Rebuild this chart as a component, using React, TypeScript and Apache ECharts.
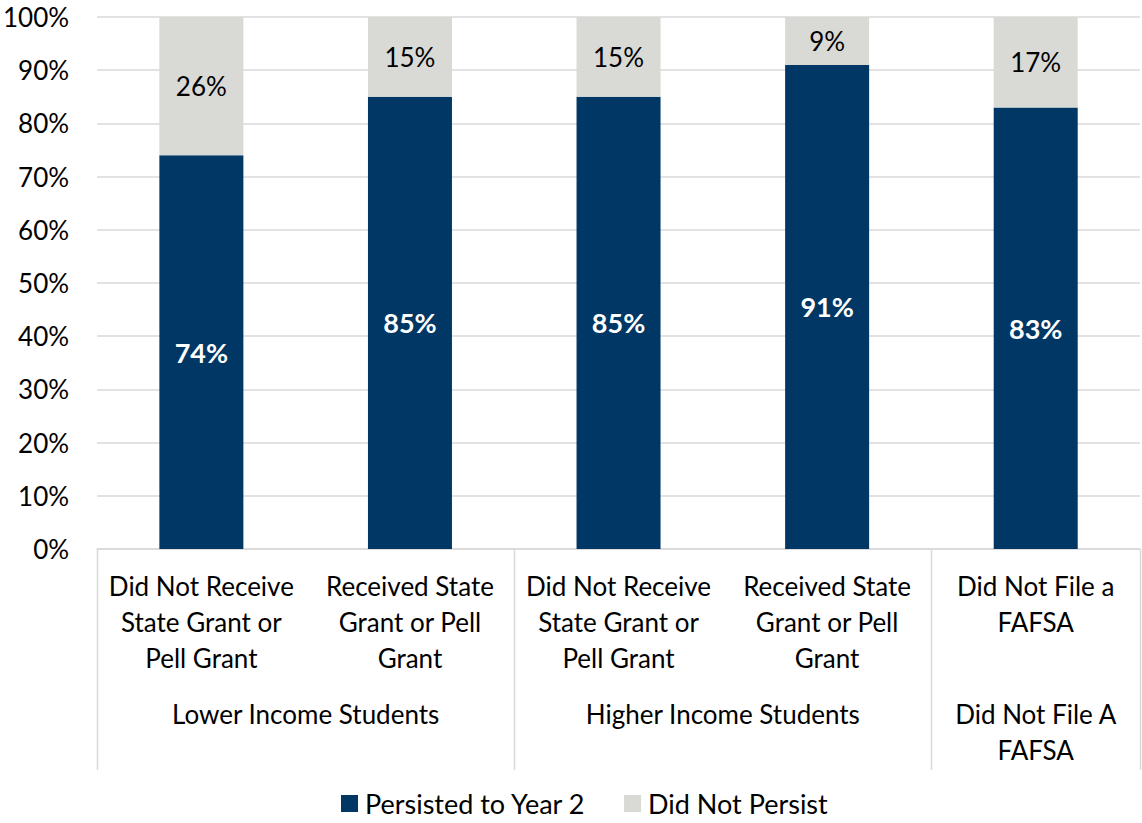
import React, { useEffect, useRef } from "react";
import * as echarts from "echarts";

const categories = [
  "Did Not Receive\nState Grant or\nPell Grant",
  "Received State\nGrant or Pell\nGrant",
  "Did Not Receive\nState Grant or\nPell Grant",
  "Received State\nGrant or Pell\nGrant",
  "Did Not File a\nFAFSA",
];
const groups = [
  { label: "Lower Income Students", start: 0, end: 1 },
  { label: "Higher Income Students", start: 2, end: 3 },
  { label: "Did Not File A\nFAFSA", start: 4, end: 4 },
];
const persisted = [74, 85, 85, 91, 83];
const notPersisted = [26, 15, 15, 9, 17];
const yTicks = [0, 10, 20, 30, 40, 50, 60, 70, 80, 90, 100];

const FONT = "Lato, 'Open Sans', sans-serif";
const FS = 26;
const DARK = "#003764";
const LIGHT = "#d9d9d6";
const GRID_COLOR = "#d9d9d9";

export default function App() {
  const ref = useRef<HTMLDivElement>(null);
  useEffect(() => {
    if (!ref.current) return;
    const chart = echarts.init(ref.current, undefined, { renderer: "svg" });
    const option: any = {
      animation: false,
      textStyle: { fontFamily: FONT },
      grid: { left: 97, right: 2, top: 17, bottom: 274, containLabel: false },
      legend: {
        top: 790,
        left: 341,
        padding: 0,
        itemWidth: 17,
        itemHeight: 17,
        itemGap: 38,
        icon: "rect",
        textStyle: { fontSize: 27, color: "#000", fontFamily: FONT, padding: [0, 0, 0, 2] },
        data: ["Persisted to Year 2", "Did Not Persist"],
      },
      xAxis: {
        type: "category",
        data: categories,
        axisLine: { show: true, lineStyle: { color: GRID_COLOR, width: 1.5 } },
        axisTick: { show: false },
        axisLabel: {
          fontSize: FS,
          color: "#000",
          lineHeight: 36,
          margin: 19,
          interval: 0,
          verticalAlign: "top",
          fontFamily: FONT,
        },
      },
      yAxis: {
        type: "value",
        min: 0,
        max: 100,
        interval: 10,
        axisLine: { show: false },
        axisTick: { show: false },
        splitLine: { lineStyle: { color: GRID_COLOR, width: 1.5 } },
        axisLabel: {
          fontSize: FS,
          color: "#000",
          margin: 28,
          fontFamily: FONT,
          formatter: (v: number) => (yTicks.includes(v) ? v + "%" : ""),
        },
      },
      series: [
        {
          name: "Persisted to Year 2",
          type: "bar",
          stack: "total",
          barWidth: 84,
          data: persisted,
          itemStyle: { color: DARK },
          label: {
            show: true,
            position: "inside",
            formatter: "{c}%",
            color: "#fff",
            fontWeight: "bold",
            fontSize: 27,
            fontFamily: FONT,
          },
        },
        {
          name: "Did Not Persist",
          type: "bar",
          stack: "total",
          barWidth: 84,
          data: notPersisted,
          itemStyle: { color: LIGHT },
          label: {
            show: true,
            position: "inside",
            formatter: "{c}%",
            color: "#000",
            fontSize: FS,
            fontFamily: FONT,
          },
        },
      ],
    };
    chart.setOption(option);

    const c0 = chart.convertToPixel({ xAxisIndex: 0 }, 0) as number;
    const c1 = chart.convertToPixel({ xAxisIndex: 0 }, 1) as number;
    const bw = c1 - c0;
    const yBase = chart.convertToPixel({ yAxisIndex: 0 }, 0) as number;
    const yEnd = yBase + 221;
    const elements: any[] = [];
    const boundaries = new Set<number>();
    groups.forEach((g) => {
      boundaries.add(g.start);
      boundaries.add(g.end + 1);
    });
    boundaries.forEach((b) => {
      const x = Math.round(c0 - bw / 2 + b * bw) + 0.5;
      elements.push({
        type: "line",
        shape: { x1: x, y1: yBase, x2: x, y2: yEnd },
        style: { stroke: GRID_COLOR, lineWidth: 1.5 },
      });
    });
    groups.forEach((g) => {
      const xs = chart.convertToPixel({ xAxisIndex: 0 }, g.start) as number;
      const xe = chart.convertToPixel({ xAxisIndex: 0 }, g.end) as number;
      elements.push({
        type: "text",
        x: (xs + xe) / 2,
        y: yBase + 147,
        style: {
          text: g.label,
          fontSize: FS,
          fontFamily: FONT,
          fill: "#000",
          align: "center",
          verticalAlign: "top",
          lineHeight: 36,
        },
      });
    });
    chart.setOption({ graphic: { elements } });

    return () => chart.dispose();
  }, []);
  return <div ref={ref} style={{ width: 1142, height: 823, position: "absolute", left: 0, top: 0 }} />;
}
